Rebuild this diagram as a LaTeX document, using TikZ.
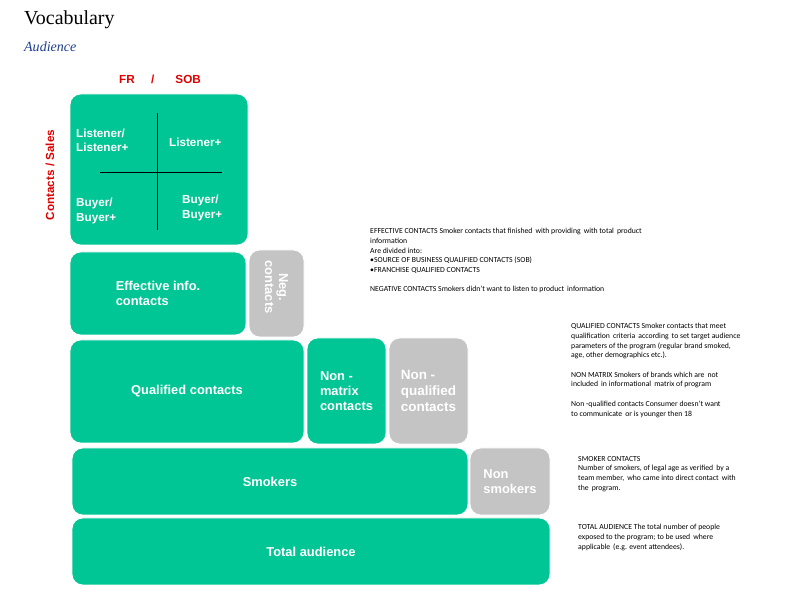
\documentclass[tikz,border=0pt]{standalone}
\usepackage{fontspec}
\setmainfont{Liberation Sans}
\newfontfamily\calib{Carlito}
\newfontfamily\serifti{Liberation Serif}
\begin{document}
\begin{tikzpicture}[x=0.03cm,y=-0.03cm,
  box/.style={draw=white,line width=0.8pt,rounded corners=9pt,fill=teal0,text=white,font=\bfseries\fontsize{11}{13}\selectfont},
  gbox/.style={box,fill=grey0},
  desc/.style={anchor=north west,align=left,font=\calib\fontsize{6.6}{8.3}\selectfont,inner sep=0pt}]
\definecolor{teal0}{HTML}{00C595}
\definecolor{grey0}{HTML}{C4C4C4}
\definecolor{red0}{HTML}{E00000}
\definecolor{blue0}{HTML}{1F3F8F}
\useasboundingbox (0,0) rectangle (800,600);
\node[anchor=west,font=\serifti\fontsize{17}{19}\selectfont] (title) at (20,20) {Vocabulary};
\node[anchor=west,font=\serifti\itshape\fontsize{12}{14}\selectfont,text=blue0] (sub) at (20,47) {Audience};
\node[font=\bfseries\fontsize{10}{12}\selectfont,text=red0] (frsob) at (160,79) {FR\hspace{14pt}/\hspace{18pt}SOB};
\node[rotate=90,font=\bfseries\fontsize{10}{12}\selectfont,text=red0] (cs) at (50,175) {Contacts / Sales};
% matrix
\node[box,minimum width=178*0.03cm,minimum height=151*0.03cm] (mat) at (159,169.5) {};
\coordinate (vt) at (157,113); \coordinate (vb) at (157,230);
\coordinate (hl) at (100,172); \coordinate (hr) at (222,172);
\draw[black,line width=0.6pt] (vt) -- (vb) (hl) -- (hr);
\node[anchor=west,align=left,text=white,font=\bfseries\fontsize{10}{12}\selectfont] (q1) at (72,140) {Listener/\\Listener+};
\node[anchor=west,text=white,font=\bfseries\fontsize{10}{12}\selectfont] (q2) at (165,142) {Listener+};
\node[anchor=west,align=left,text=white,font=\bfseries\fontsize{10}{12}\selectfont] (q3) at (72,211) {Buyer/\\Buyer+};
\node[anchor=west,align=left,text=white,font=\bfseries\fontsize{10}{12}\selectfont] (q4) at (178,208) {Buyer/\\Buyer+};
% rows
\node[box,minimum width=176*0.03cm,minimum height=83*0.03cm,align=left] (eff) at (158,293.5) {Effective info.\\contacts};
\node[gbox,minimum width=55*0.03cm,minimum height=87*0.03cm] (neg) at (276.5,293.5) {};
\node[rotate=-90,align=center,text=white,font=\bfseries\fontsize{11}{12}\selectfont] (negt) at (276.5,287) {Neg.\\contacts};
\node[box,minimum width=234*0.03cm,minimum height=103*0.03cm] (qual) at (187,391.5) {Qualified contacts};
\node[box,minimum width=79*0.03cm,minimum height=106*0.03cm,align=left] (nm) at (346.5,391) {Non -\\matrix\\contacts};
\node[gbox,minimum width=79*0.03cm,minimum height=106*0.03cm,align=left,font=\bfseries\fontsize{11.5}{13.5}\selectfont] (nq) at (428.5,391) {Non -\\qualified\\contacts};
\node[box,minimum width=396*0.03cm,minimum height=67*0.03cm] (smk) at (270,481.5) {Smokers};
\node[gbox,minimum width=80*0.03cm,minimum height=67*0.03cm,align=left] (nsmk) at (510,481.5) {Non\\smokers};
\node[box,minimum width=478*0.03cm,minimum height=67*0.03cm] (tot) at (311,551.5) {Total audience};
% descriptions
\node[desc] (d1) at (370,228) {EFFECTIVE CONTACTS Smoker contacts that finished\, with providing\, with total\, product\\information\\Are divided into:\\\textbullet SOURCE OF BUSINESS QUALIFIED CONTACTS (SOB)\\\textbullet FRANCHISE QUALIFIED CONTACTS\\[8.3pt]NEGATIVE CONTACTS Smokers didn’t want to listen to product\, information};
\node[desc] (d2) at (571,323) {QUALIFIED CONTACTS Smoker contacts that meet\\qualification\, criteria\, according\, to set target audience\\parameters of the program (regular brand smoked,\\age, other demographics etc.).\\[8.3pt]NON MATRIX Smokers of brands which are\, not\\included\, in informational\, matrix of program\\[8.3pt]Non -qualified contacts Consumer doesn’t want\\to communicate\, or is younger then 18};
\node[desc] (d3) at (578,456) {SMOKER CONTACTS\\Number of smokers, of legal age as verified\, by a\\team member,\, who came into direct contact\, with\\the\, program.};
\node[desc] (d4) at (578,524) {TOTAL AUDIENCE The total number of people\\exposed to the program; to be used\, where\\applicable\, (e.g. event attendees).};
\end{tikzpicture}
\end{document}
